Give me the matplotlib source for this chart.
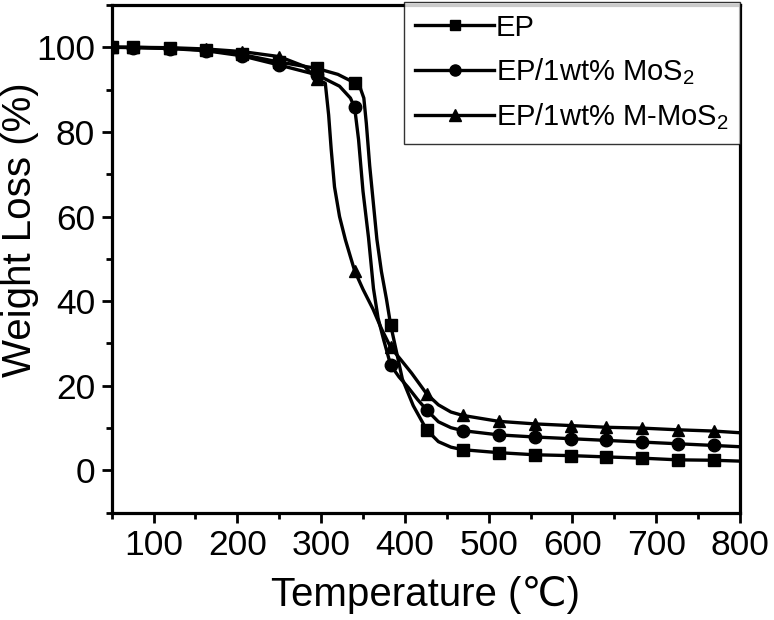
import matplotlib
matplotlib.use('Agg')
import matplotlib.pyplot as plt
from matplotlib.ticker import MultipleLocator

plt.rcParams['font.family'] = ['Liberation Sans', 'DejaVu Sans']
plt.rcParams['mathtext.fontset'] = 'custom'
plt.rcParams['mathtext.rm'] = 'Liberation Sans'
plt.rcParams['mathtext.it'] = 'Liberation Sans'

# marker positions (temperature, weight %)
t_mark = [50, 75, 120, 162, 205, 250, 295, 340, 383, 426, 469, 512, 555, 598, 640, 683, 726, 769]
ep_mark = [100, 100, 99.8, 99.3, 98.3, 96.5, 95.0, 91.6, 34.4, 9.6, 4.9, 4.2, 3.7, 3.5, 3.2, 2.9, 2.5, 2.4]
mos2_mark = [100, 99.9, 99.7, 99.2, 98.0, 95.8, 93.5, 85.8, 24.9, 14.3, 9.4, 8.4, 7.9, 7.5, 7.1, 6.7, 6.3, 5.9]
mmos2_mark = [100, 100, 99.9, 99.6, 99.0, 97.8, 92.5, 47.2, 29.1, 18.1, 13.0, 11.6, 11.0, 10.6, 10.2, 10.0, 9.6, 9.3]

# curves
t_ep = [50, 75, 120, 162, 205, 250, 295, 320, 340, 346, 351, 354, 358, 366.6, 372, 378, 383, 390, 397,
        410, 426, 440, 455, 469, 512, 555, 598, 640, 683, 726, 769, 800]
w_ep = [100, 100, 99.8, 99.3, 98.3, 96.5, 95.0, 93.6, 91.6, 90.8, 88, 82, 72, 54.6, 47, 40.5, 34.4, 28, 21.6,
        15.3, 9.6, 6.8, 5.5, 4.9, 4.2, 3.7, 3.5, 3.2, 2.9, 2.5, 2.4, 2.2]

t_mos2 = [50, 75, 120, 162, 205, 250, 295, 322, 335, 340, 344.7, 350, 356.6, 362.5, 368, 374.5, 383, 393,
          404, 415, 426, 440, 455, 469, 512, 555, 598, 640, 683, 726, 769, 800]
w_mos2 = [100, 99.9, 99.7, 99.2, 98.0, 95.8, 93.5, 90.8, 88, 85.8, 78.2, 66, 55, 43, 36, 31, 24.9, 22.1,
          19.6, 16.8, 14.3, 11.5, 10.1, 9.4, 8.4, 7.9, 7.5, 7.1, 6.7, 6.3, 5.9, 5.6]

t_mmos2 = [50, 75, 120, 162, 205, 250, 280, 295, 305, 309, 312, 316, 322, 329, 335, 340, 350, 362, 372,
           383, 395, 408, 426, 440, 455, 469, 512, 555, 598, 640, 683, 726, 769, 800]
w_mmos2 = [100, 100, 99.9, 99.6, 99.0, 97.8, 95.5, 92.5, 91.5, 84, 76, 67, 60, 54.5, 50.5, 47.2, 42.8, 38.1, 33.5,
           29.1, 26.2, 23.0, 18.1, 15.5, 13.8, 13.0, 11.6, 11.0, 10.6, 10.2, 10.0, 9.6, 9.3, 8.9]

series = [
    (r'EP', t_ep, w_ep, ep_mark, 's', 8),
    (r'EP/1wt% MoS$_2$', t_mos2, w_mos2, mos2_mark, 'o', 9),
    (r'EP/1wt% M-MoS$_2$', t_mmos2, w_mmos2, mmos2_mark, '^', 9),
]

fig = plt.figure(figsize=(7.74, 6.20), dpi=100)
ax = fig.add_axes([0.1443, 0.173, 0.956 - 0.1443, 0.992 - 0.173])

handles = []
for label, tc, wc, wm, mk, ms in series:
    ax.plot(tc, wc, color='black', lw=2.4)
    ax.plot(t_mark, wm, linestyle='none', marker=mk, ms=ms, color='black')
    h, = ax.plot([], [], color='black', lw=2.4, marker=mk, ms=ms - 1, label=label)
    handles.append(h)

ax.set_xlim(50, 800)
ax.set_ylim(-10, 110)
ax.xaxis.set_major_locator(MultipleLocator(100))
ax.xaxis.set_minor_locator(MultipleLocator(50))
ax.yaxis.set_major_locator(MultipleLocator(20))
ax.yaxis.set_minor_locator(MultipleLocator(10))
ax.tick_params(which='both', direction='out', width=2.0, labelsize=25.5, top=False, right=False)
ax.tick_params(which='major', length=7, pad=5)
ax.tick_params(which='minor', length=4.5)
for sp in ax.spines.values():
    sp.set_linewidth(2.3)

ax.set_xlabel('Temperature (\u2103)', fontsize=29, labelpad=10)
ax.set_ylabel('Weight Loss (%)', fontsize=29)
ax.yaxis.set_label_coords(-0.115, 0.557)

leg = fig.legend(handles=handles, loc='upper right', bbox_to_anchor=(0.956, 0.997),
                 fontsize=21, frameon=True, fancybox=False, edgecolor='black',
                 handlelength=2.7, handletextpad=0.05, borderaxespad=0, borderpad=0.4,
                 labelspacing=0.5, numpoints=1)
leg.get_frame().set_linewidth(1.0)

fig.savefig('out.png', dpi=100)
